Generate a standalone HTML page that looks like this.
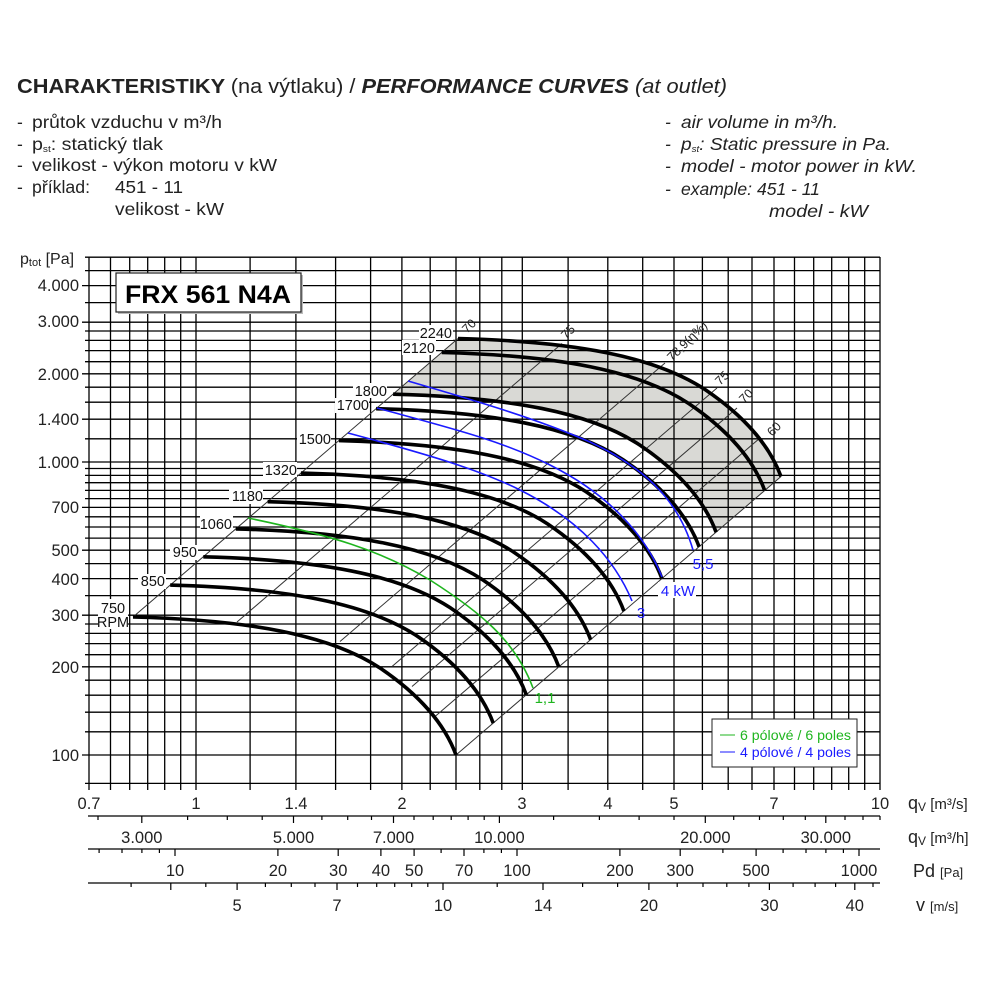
<!DOCTYPE html>
<html><head><meta charset="utf-8"><style>
html,body{margin:0;padding:0;background:#fff;}
svg{display:block;font-family:"Liberation Sans",Arial,sans-serif;}
</style></head><body>
<svg width="1000" height="1000" viewBox="0 0 1000 1000" xmlns="http://www.w3.org/2000/svg">
<rect width="1000" height="1000" fill="#fff"/>
<!-- header -->
<text x="17" y="93" font-size="20" font-weight="bold" fill="#222" textLength="710" lengthAdjust="spacingAndGlyphs">CHARAKTERISTIKY <tspan font-weight="normal">(na výtlaku) / </tspan><tspan font-style="italic">PERFORMANCE CURVES </tspan><tspan font-style="italic" font-weight="normal">(at outlet)</tspan></text>
<g font-size="17.5" fill="#222">
<text x="17" y="128">-</text><text x="32" y="128" textLength="190" lengthAdjust="spacingAndGlyphs">průtok vzduchu v m³/h</text>
<text x="17" y="150">-</text><text x="32" y="150" textLength="131" lengthAdjust="spacingAndGlyphs">p<tspan font-size="9" dy="2">st</tspan><tspan dy="-2">: statický tlak</tspan></text>
<text x="17" y="171">-</text><text x="32" y="171" textLength="245" lengthAdjust="spacingAndGlyphs">velikost - výkon motoru v kW</text>
<text x="17" y="193">-</text><text x="32" y="193" textLength="58" lengthAdjust="spacingAndGlyphs">příklad:</text><text x="115" y="193" textLength="68" lengthAdjust="spacingAndGlyphs">451 - 11</text>
<text x="115" y="215" textLength="109" lengthAdjust="spacingAndGlyphs">velikost - kW</text>
</g>
<g font-size="17.5" fill="#222" font-style="italic">
<text x="665" y="128">-</text><text x="681" y="128" textLength="157" lengthAdjust="spacingAndGlyphs">air volume in m³/h.</text>
<text x="665" y="150">-</text><text x="681" y="150" textLength="210" lengthAdjust="spacingAndGlyphs">p<tspan font-size="9" dy="2">st</tspan><tspan dy="-2">: Static pressure in Pa.</tspan></text>
<text x="665" y="172">-</text><text x="681" y="172" textLength="236" lengthAdjust="spacingAndGlyphs">model - motor power in kW.</text>
<text x="665" y="195">-</text><text x="681" y="195">example:</text><text x="757" y="195">451 - 11</text>
<text x="769" y="217" textLength="99" lengthAdjust="spacingAndGlyphs">model - kW</text>
</g>

<!-- gray shaded area -->
<path d="M393,394 L458,338.5 C575,341.5 655,356.5 705,389.5 C745,416.5 770,446.5 781,476.5 L716,532 C705,502 680,472 640,445 C590,412 510,397 393,394 Z" fill="#d9d9d5"/>

<!-- grid -->
<g stroke="#000" stroke-width="1.3" fill="none">
<path d="M89,257V790M110.5,257V790M129.7,257V790M147.7,257V790M164.7,257V790M180.7,257V790M196,257V790M250.1,257V790M295.9,257V790M335.6,257V790M370.6,257V790M401.9,257V790M430.2,257V790M456,257V790M479.8,257V790M501.8,257V790M522.3,257V790M568.1,257V790M607.8,257V790M642.7,257V790M674,257V790M702.4,257V790M728.2,257V790M752,257V790M774,257V790M794.5,257V790M813.7,257V790M831.7,257V790M848.7,257V790M864.7,257V790M880,257V790"/>
<path d="M85,783.4H880M82,755H880M85,731.8H880M85,712.2H880M85,695.2H880M85,680.2H880M82,666.8H880M85,654.7H880M85,643.6H880M85,633.4H880M85,624H880M82,615.2H880M85,595.6H880M82,578.6H880M85,563.6H880M82,550.2H880M85,538.1H880M85,527H880M85,516.8H880M82,507.4H880M85,498.6H880M85,490.4H880M85,482.7H880M85,475.4H880M85,468.5H880M82,462H880M85,438.8H880M82,419.2H880M85,402.2H880M85,387.2H880M82,373.8H880M85,361.7H880M85,350.6H880M85,340.4H880M85,331H880M82,322.2H880M85,302.6H880M82,285.6H880M85,270.6H880M85,257.2H880"/>
</g>

<!-- FRX label box -->
<rect x="118" y="275" width="185" height="39" fill="#bbb"/>
<rect x="116" y="273" width="185" height="39" fill="#fff" stroke="#222" stroke-width="1.2"/>
<text x="208" y="303" font-size="25" font-weight="bold" text-anchor="middle" fill="#000" textLength="166" lengthAdjust="spacingAndGlyphs">FRX 561 N4A</text>

<!-- diagonal lines -->
<g stroke="#333" stroke-width="1" fill="none">
<path d="M133,617L458,338.5M237,622L562,343.5M340,641.5L665,363M392,666.5L717,388M412,686.5L737,408M435,716.5L760,438M456,755L781,476.5"/>
</g>

<!-- black fan curves -->
<defs><path id="c" d="M133,617 C250,620 330,635 380,668 C420,695 445,725 456,755" fill="none" stroke="#000" stroke-width="3.6"/></defs>
<use href="#c"/>
<use href="#c" transform="translate(37.2,-31.9)"/>
<use href="#c" transform="translate(70.3,-60.2)"/>
<use href="#c" transform="translate(102.8,-88.1)"/>
<use href="#c" transform="translate(134.6,-115.3)"/>
<use href="#c" transform="translate(167.9,-143.9)"/>
<use href="#c" transform="translate(205.9,-176.4)"/>
<use href="#c" transform="translate(243.1,-208.3)"/>
<use href="#c" transform="translate(260.1,-222.8)"/>
<use href="#c" transform="translate(308.7,-264.5)"/>
<use href="#c" transform="translate(325,-278.5)"/>

<!-- green & blue curves -->
<path d="M248,518 C330,535 380,550 430,580 C480,612 515,640 533,688" fill="none" stroke="#1fb51f" stroke-width="1.6"/>
<g fill="none" stroke="#1a1aff" stroke-width="1.6">
<path d="M348,433 C430,455 480,470 520,490 C580,520 615,560 632,601"/>
<path d="M377,408 C450,428 500,440 550,465 C610,495 645,535 662,577"/>
<path d="M408,381 C480,402 540,420 590,442 C650,470 680,505 693,550"/>
</g>

<!-- RPM labels -->
<g font-size="14.5" fill="#111">
<g fill="#fff"><rect x="98" y="599" width="30" height="30"/><rect x="138" y="574" width="28" height="15"/><rect x="170" y="545" width="28" height="15"/><rect x="200" y="516" width="33" height="15"/><rect x="229" y="489" width="34" height="15"/><rect x="263" y="462" width="34" height="15"/><rect x="297" y="431" width="34" height="15"/><rect x="335" y="398" width="34" height="15"/><rect x="353" y="383" width="34" height="15"/><rect x="402" y="340" width="34" height="15"/><rect x="419" y="325" width="34" height="15"/></g>
<text x="113" y="613" text-anchor="middle">750</text>
<text x="113" y="627" text-anchor="middle">RPM</text>
<text x="165" y="586" text-anchor="end">850</text>
<text x="197" y="557" text-anchor="end">950</text>
<text x="232" y="529" text-anchor="end">1060</text>
<text x="263" y="501" text-anchor="end">1180</text>
<text x="297" y="475" text-anchor="end">1320</text>
<text x="331" y="444" text-anchor="end">1500</text>
<text x="369" y="410" text-anchor="end">1700</text>
<text x="387" y="396" text-anchor="end">1800</text>
<text x="435" y="353" text-anchor="end">2120</text>
<text x="452" y="338" text-anchor="end">2240</text>
</g>

<!-- end labels -->
<g font-size="15">
<rect x="658" y="582" width="38" height="16" fill="#fff"/>
<text x="545" y="703" text-anchor="middle" fill="#1fb51f">1,1</text>
<text x="641" y="618" text-anchor="middle" fill="#1a1aff">3</text>
<text x="678" y="596" text-anchor="middle" fill="#1a1aff">4 kW</text>
<text x="703" y="569" text-anchor="middle" fill="#1a1aff">5,5</text>
</g>

<!-- efficiency labels -->
<g font-size="12.5" fill="#222" text-anchor="middle">
<text transform="translate(472,329) rotate(-45)">70</text>
<text transform="translate(571,335) rotate(-45)">75</text>
<text transform="translate(690,344) rotate(-45)">78,9(η%)</text>
<text transform="translate(725,381) rotate(-45)">75</text>
<text transform="translate(749,399) rotate(-45)">70</text>
<text transform="translate(777,432) rotate(-45)">60</text>
</g>

<!-- legend -->
<rect x="712" y="719" width="145" height="48" fill="#fff" stroke="#222" stroke-width="1"/>
<line x1="720" y1="735" x2="735" y2="735" stroke="#1fb51f" stroke-width="1"/>
<line x1="720" y1="752" x2="735" y2="752" stroke="#1a1aff" stroke-width="1"/>
<text x="740" y="740" font-size="13.5" fill="#1fb51f" textLength="111" lengthAdjust="spacingAndGlyphs">6 pólové / 6 poles</text>
<text x="740" y="757" font-size="13.5" fill="#1a1aff" textLength="111" lengthAdjust="spacingAndGlyphs">4 pólové / 4 poles</text>

<!-- y labels -->
<g font-size="16.5" fill="#222" text-anchor="end">
<text x="79" y="291">4.000</text>
<text x="79" y="327">3.000</text>
<text x="79" y="380">2.000</text>
<text x="79" y="425">1.400</text>
<text x="79" y="468">1.000</text>
<text x="79" y="513">700</text>
<text x="79" y="556">500</text>
<text x="79" y="585">400</text>
<text x="79" y="621">300</text>
<text x="79" y="673">200</text>
<text x="79" y="761">100</text>
</g>
<text x="20" y="264" font-size="16" fill="#222">p<tspan font-size="11" dy="2">tot</tspan><tspan dy="-2"> [Pa]</tspan></text>

<!-- x axis m3/s labels -->
<g font-size="16.5" fill="#222" text-anchor="middle">
<text x="89" y="809">0.7</text><text x="196" y="809">1</text><text x="296" y="809">1.4</text><text x="402" y="809">2</text><text x="522" y="809">3</text><text x="608" y="809">4</text><text x="674" y="809">5</text><text x="774" y="809">7</text><text x="880" y="809">10</text>
</g>

<!-- bottom axes -->
<g stroke="#000" stroke-width="1.2" fill="none">
<path d="M88,816H880M88,849H880M88,883H880"/>
<path d="M98,816v4M141.8,816v7M187.6,816v4M227.3,816v4M262.2,816v4M293.5,816v7M321.9,816v4M347.7,816v4M371.5,816v4M393.5,816v7M414,816v4M433.2,816v4M451.2,816v4M468.1,816v4M484.2,816v4M499.4,816v7M553.6,816v4M599.4,816v4M639.1,816v4M674,816v4M705.3,816v7M733.7,816v4M759.5,816v4M783.3,816v4M805.3,816v4M825.8,816v7M845,816v4M863,816v4M880,816v4"/>
<path d="M99.1,849v4M122,849v4M141.9,849v4M159.4,849v4M175,849v7M277.9,849v7M338.2,849v7M380.9,849v7M414.1,849v7M441.1,849v4M464,849v7M483.9,849v4M501.4,849v4M517,849v7M619.9,849v7M680.2,849v7M722.9,849v4M756.1,849v7M783.1,849v4M806,849v4M825.9,849v4M843.4,849v4M859,849v7"/>
<path d="M131.1,883v4M170.8,883v7M205.8,883v4M237.1,883v7M265.4,883v4M291.3,883v4M315,883v4M337,883v7M357.5,883v4M376.7,883v4M394.7,883v4M411.7,883v4M427.8,883v4M443,883v7M497.2,883v4M543,883v7M582.6,883v4M617.6,883v4M648.9,883v7M677.2,883v4M703,883v4M726.8,883v4M748.9,883v4M769.4,883v7M793.1,883v4M815.1,883v4M835.6,883v4M854.8,883v7M873,883v4"/>
</g>
<g font-size="16.5" fill="#222" text-anchor="middle">
<text x="141.8" y="843">3.000</text><text x="293.5" y="843">5.000</text><text x="393.5" y="843">7.000</text><text x="499.4" y="843">10.000</text><text x="705.3" y="843">20.000</text><text x="825.8" y="843">30.000</text>
<text x="175" y="876">10</text><text x="277.9" y="876">20</text><text x="338.2" y="876">30</text><text x="380.9" y="876">40</text><text x="414.1" y="876">50</text><text x="464" y="876">70</text><text x="517" y="876">100</text><text x="619.9" y="876">200</text><text x="680.2" y="876">300</text><text x="756.1" y="876">500</text><text x="859" y="876">1000</text>
<text x="237.1" y="911">5</text><text x="337" y="911">7</text><text x="443" y="911">10</text><text x="543" y="911">14</text><text x="648.9" y="911">20</text><text x="769.4" y="911">30</text><text x="854.8" y="911">40</text>
</g>
<g font-size="18" fill="#222">
<text x="908" y="809">q<tspan font-size="12" dy="2">V</tspan><tspan dy="-2" font-size="15"> [m³/s]</tspan></text>
<text x="908" y="843">q<tspan font-size="12" dy="2">V</tspan><tspan dy="-2" font-size="15"> [m³/h]</tspan></text>
<text x="913" y="877">Pd <tspan font-size="13">[Pa]</tspan></text>
<text x="916" y="911">v <tspan font-size="13">[m/s]</tspan></text>
</g>
</svg>
</body></html>
